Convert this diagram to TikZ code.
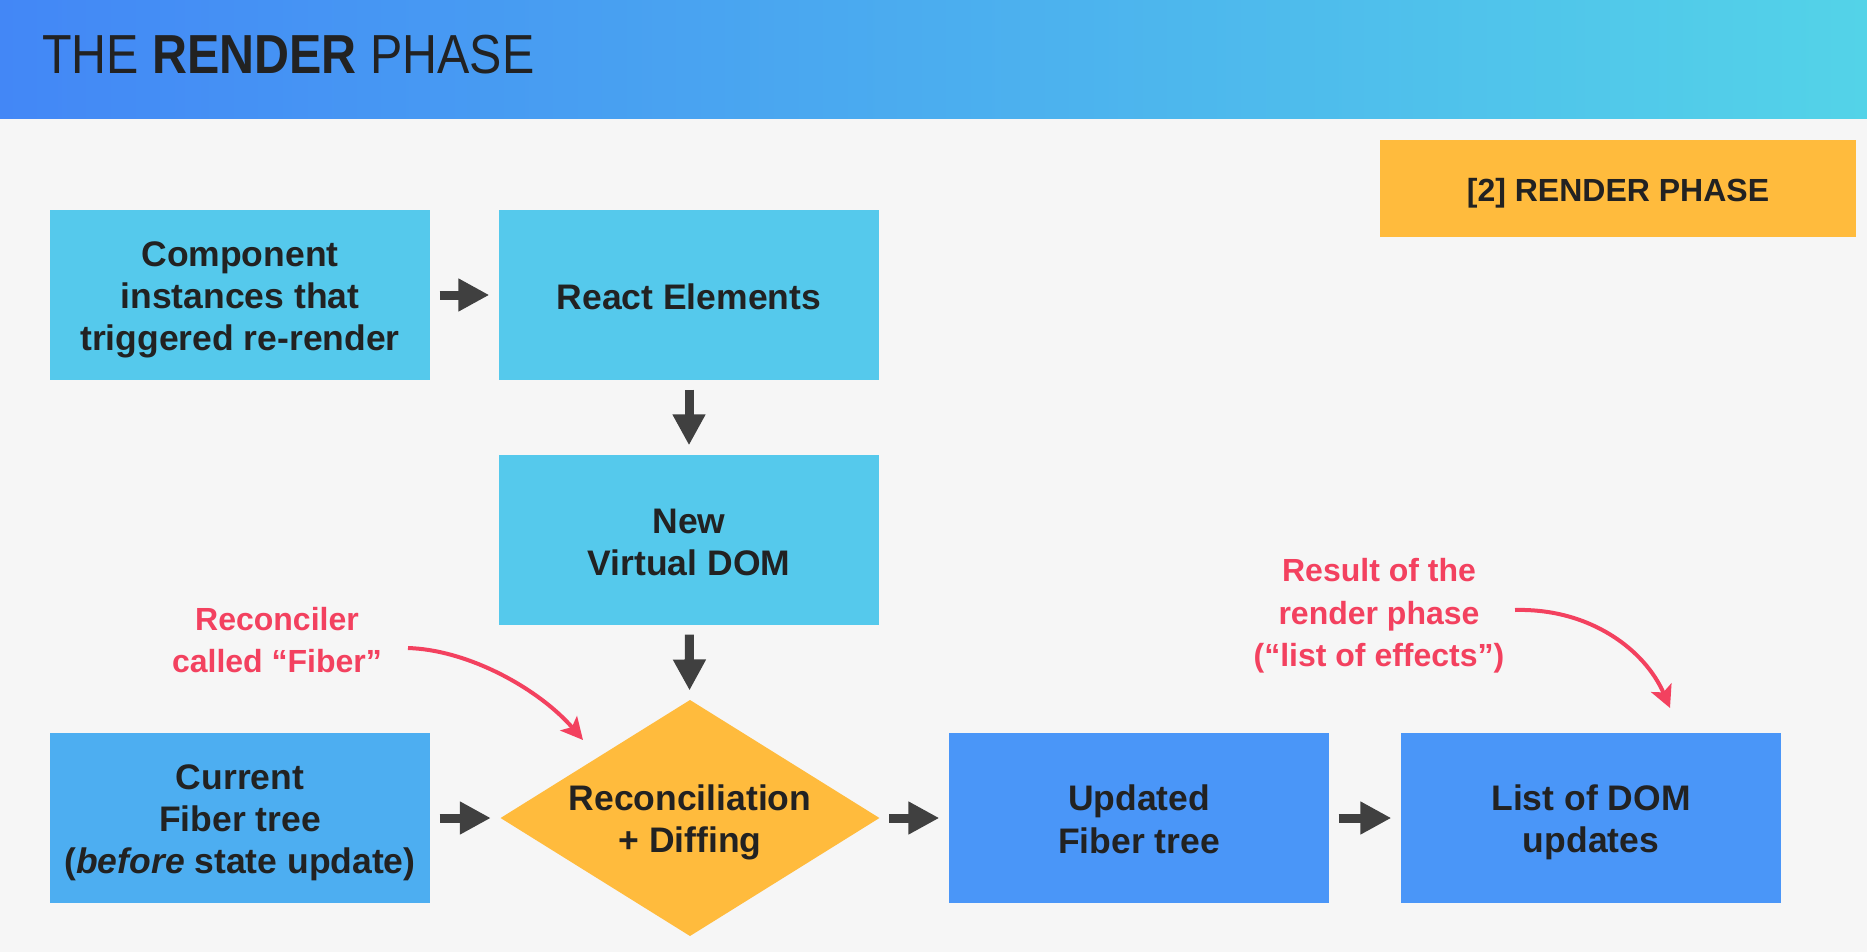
\documentclass[tikz,border=0pt]{standalone}
\usepackage{fontspec}
\setmainfont{Liberation Sans}
\newfontfamily\titlefont[FakeStretch=0.88]{Liberation Sans}
\usetikzlibrary{arrows.meta,shapes.geometric}
\definecolor{bgc}{HTML}{F6F6F6}
\definecolor{hdrL}{HTML}{4387F6}
\definecolor{hdrR}{HTML}{53D3E8}
\definecolor{cyanbox}{HTML}{55C9EC}
\definecolor{curbox}{HTML}{4DAEF1}
\definecolor{bluebox}{HTML}{4A96F8}
\definecolor{orangebox}{HTML}{FFBB3D}
\definecolor{redc}{HTML}{F3415F}
\definecolor{arrc}{HTML}{404040}
\definecolor{txt}{HTML}{222222}
\newcommand\bxfont{\bfseries\fontsize{35.5}{42}\selectfont}
\newcommand\rdfont{\bfseries\fontsize{32}{42.3}\selectfont}
\newcommand\bs{\rule[-7pt]{0pt}{42pt}}
\begin{document}
\begin{tikzpicture}[x=1pt,y=-1pt,
  box/.style={rectangle, minimum width=380pt, minimum height=170pt, inner sep=0pt, align=center, text=txt, font=\bxfont},
  darr/.style={draw=arrc, line width=9pt, -{Triangle[width=31pt,length=31pt]}, shorten <=9.5pt, shorten >=9.5pt},
  rarr/.style={draw=redc, line width=4pt, -{Stealth[width=22pt,length=22pt,inset=5pt]}},
  note/.style={align=center, text=redc, font=\rdfont, inner sep=0pt}]
\fill[bgc] (0,0) rectangle (1867,952);
\useasboundingbox (0,0) rectangle (1867,952);
\shade[left color=hdrL, right color=hdrR] (0,0) rectangle (1867,119);
\node[anchor=west, text=txt, inner sep=0pt] (title) at (42,55) {\titlefont\fontsize{55}{60}\selectfont THE \textbf{RENDER} PHASE};

\node[rectangle, fill=orangebox, minimum width=476pt, minimum height=97pt, inner sep=0pt, text=txt, font=\bfseries\fontsize{32}{38}\selectfont] (phase) at (1618,188.5) {\rule[-6.7pt]{0pt}{40.2pt}[2] RENDER PHASE};

\node[box, fill=cyanbox] (comp) at (240,295) {\bs Component\\instances that\\triggered re-render\bs};
\node[box, fill=cyanbox] (react) at (689,295) {\bs React Elements};
\node[box, fill=cyanbox] (vdom) at (689,540) {\bs New\\Virtual DOM\bs};
\node[diamond, aspect=1.6, fill=orangebox, minimum width=379pt, minimum height=236pt, inner sep=0pt, align=center, text=txt, font=\bxfont] (recon) at (690,818) {\bs Reconciliation\\+ Diffing\bs};
\node[box, fill=curbox] (cur) at (240,818) {\bs Current\\Fiber tree\\(\textit{before} state update)\bs};
\node[box, fill=bluebox] (upd) at (1139,818) {\bs Updated\\Fiber tree\bs};
\node[box, fill=bluebox] (dom) at (1591,818) {\bs List of DOM\\updates\bs};

\draw[darr] (comp) -- (react);
\draw[darr] (react) -- (vdom);
\draw[darr] (vdom) -- (recon);
\draw[darr] (cur) -- (recon);
\draw[darr] (recon) -- (upd);
\draw[darr] (upd) -- (dom);

\node[note] (note1) at (277,640) {Reconciler\\called “Fiber”};
\node[note] (note2) at (1379,616) {Result of the\\render phase\\(“list of effects”)};
\coordinate (n1s) at (408,648);
\coordinate (n1e) at (583,740);
\coordinate (n2s) at (1515,610);
\coordinate (n2e) at (1670,708);
\draw[rarr] (n1s) .. controls (470,650) and (540,690) .. (n1e);
\draw[rarr] (n2s) .. controls (1590,608) and (1645,650) .. (n2e);
\end{tikzpicture}
\end{document}
